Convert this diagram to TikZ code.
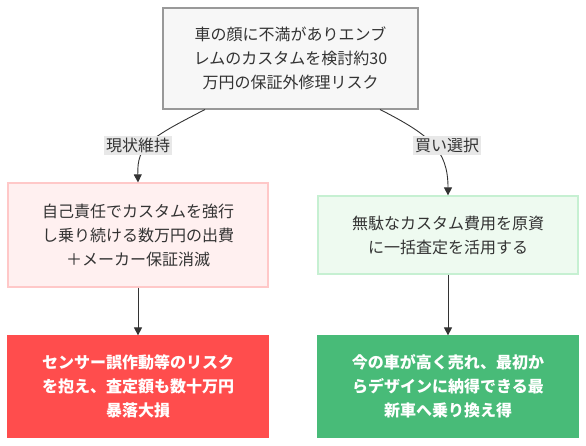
\documentclass[tikz,border=0pt]{standalone}
\usepackage{fontspec}
\setmainfont{Noto Sans CJK JP}
\usetikzlibrary{arrows.meta}
\definecolor{txt}{HTML}{333333}
\definecolor{topfill}{HTML}{F7F7F7}
\definecolor{topdraw}{HTML}{999999}
\definecolor{lpfill}{HTML}{FFF0F0}
\definecolor{lpdraw}{HTML}{FFC8C8}
\definecolor{lrfill}{HTML}{FF4D4D}
\definecolor{gpfill}{HTML}{EEFAF0}
\definecolor{gpdraw}{HTML}{C6F0D2}
\definecolor{grfill}{HTML}{48BB78}
\definecolor{lblfill}{HTML}{E8E8E8}
\definecolor{edge}{HTML}{333333}
\tikzset{
  box/.style={draw, line width=1.2pt, align=center, inner sep=0pt, font=\fontsize{16}{24}\selectfont, text=txt},
  lbl/.style={fill=lblfill, inner sep=2pt, font=\fontsize{16}{20}\selectfont, text=txt},
  conn/.style={draw=edge, line width=0.9pt, -{Triangle[length=8pt,width=8pt]}},
}
\begin{document}
\begin{tikzpicture}[x=1pt,y=-1pt]
\useasboundingbox (0,0) rectangle (586,446);
\node[box, fill=topfill, draw=topdraw, minimum width=255pt, minimum height=101pt] (top) at (290.5,58.5)
  {車の顔に不満がありエンブ\\レムのカスタムを検討約30\\万円の保証外修理リスク};
\node[box, fill=lpfill, draw=lpdraw, minimum width=260pt, minimum height=104pt] (l1) at (138,235)
  {自己責任でカスタムを強行\\し乗り続ける数万円の出費\\＋メーカー保証消滅};
\node[box, fill=lrfill, draw=lrfill, text=white, font=\fontsize{16}{24}\selectfont\bfseries, minimum width=260pt, minimum height=101pt] (l2) at (138,386.5)
  {センサー誤作動等のリスク\\を抱え、査定額も数十万円\\暴落大損};
\node[box, fill=gpfill, draw=gpdraw, minimum width=260pt, minimum height=78pt] (r1) at (448,235)
  {無駄なカスタム費用を原資\\に一括査定を活用する};
\node[box, fill=grfill, draw=grfill, text=white, font=\fontsize{16}{24}\selectfont\bfseries, minimum width=260pt, minimum height=101pt] (r2) at (448,386.5)
  {今の車が高く売れ、最初か\\らデザインに納得できる最\\新車へ乗り換え得};
\coordinate (ls) at (205,109.5);
\coordinate (rs) at (380,109.5);
\draw[conn] (ls) .. controls (150,138) and (137,145) .. (l1.north);
\draw[conn] (rs) .. controls (430,135) and (448,150) .. (r1.north);
\node[lbl] (la) at (138,145.5) {現状維持};
\node[lbl] (lb) at (447,145.5) {買い選択};
\draw[conn] (l1.south) -- (l2.north);
\draw[conn] (r1.south) -- (r2.north);
\end{tikzpicture}
\end{document}
